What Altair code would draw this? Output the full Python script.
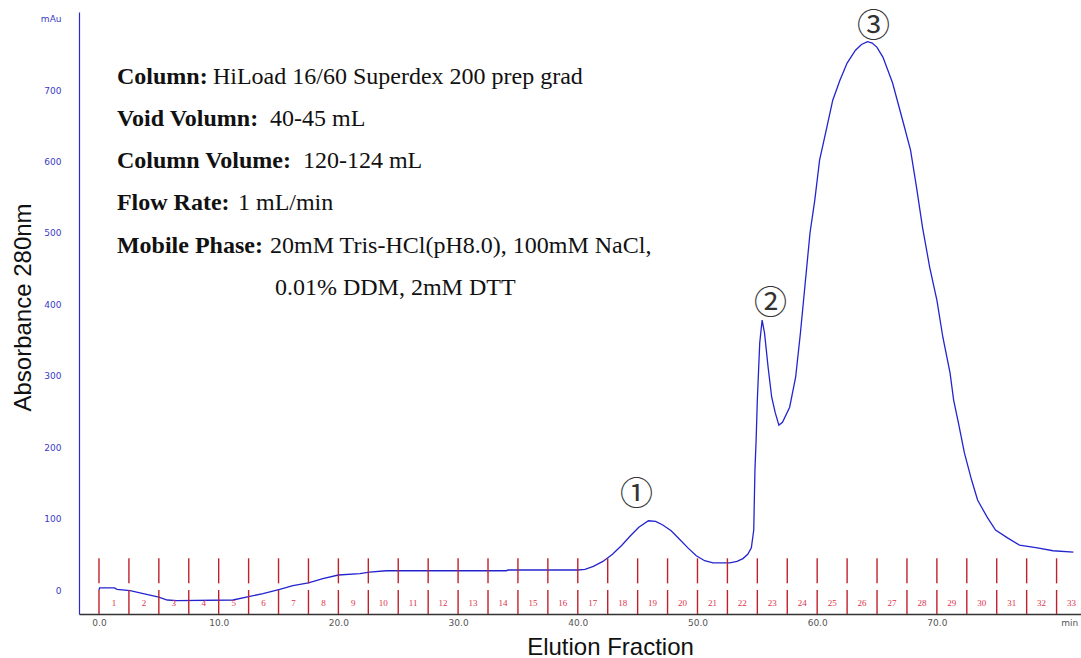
import altair as alt
import pandas as pd

# Chromatogram trace: elution (mL at 1 mL/min) vs. absorbance at 280 nm (mAu)
elution_ml = [
    0.0, 0.05, 1.3, 1.5, 2.6, 3.7, 5.0, 5.7, 6.5, 11.2, 12.6, 13.7, 15.1, 16.2,
    17.5, 18.7, 20.0, 21.8, 22.6, 24.0, 34.0, 34.2, 40.0, 40.6, 41.3, 42.1, 42.9,
    43.7, 44.4, 45.1, 45.9, 46.5, 47.1, 47.8, 48.5, 49.2, 49.9, 50.6, 51.3, 52.7,
    53.3, 53.8, 54.2, 54.5, 54.7, 54.8, 54.9, 55.0, 55.2, 55.4, 55.6, 55.9, 56.2,
    56.5, 56.8, 57.1, 57.7, 58.2, 58.6, 59.0, 59.4, 59.8, 60.2, 60.7, 61.3, 61.9,
    62.5, 63.2, 63.7, 64.2, 64.6, 65.0, 65.5, 66.3, 67.2, 67.8, 68.3, 68.8, 69.4,
    70.0, 70.5, 71.1, 71.4, 71.8, 72.3, 72.9, 73.4, 74.2, 74.9, 75.9, 76.9, 78.4,
    79.7, 81.4,
]
absorbance_mau = [
    0, 3, 3, 1, -1, -5, -10, -14, -15, -14, -9, -5, 1, 6,
    10, 16, 21, 23, 25, 27, 27, 28, 28, 29, 33, 40, 50,
    63, 76, 88, 97, 96, 91, 83, 71, 59, 48, 41, 38, 38,
    40, 44, 50, 59, 84, 168, 210, 266, 346, 378, 360, 312, 270,
    248, 231, 235, 256, 298, 360, 430, 500, 546, 602, 640, 686, 714,
    738, 756, 764, 768, 766, 760, 746, 710, 654, 616, 564, 508, 452,
    406, 354, 304, 266, 234, 192, 154, 126, 102, 84, 73, 63, 59,
    55, 53,
]

# Fraction collector: 33 fractions of 2.5 mL each
fraction_numbers = list(range(1, 34))
fraction_size_ml = 2.5

# Peak markers
peak_labels = ["①", "②", "③"]
peak_label_ml = [44.9, 56.1, 64.7]
peak_label_mau = [133, 400, 789]

# Run conditions
info_keys = ["Column:", "Void Volumn:", "Column Volume:", "Flow Rate:", "Mobile Phase:", ""]
info_values = [
    "HiLoad 16/60 Superdex 200 prep grad",
    "40-45 mL",
    "120-124 mL",
    "1 mL/min",
    "20mM Tris-HCl(pH8.0), 100mM NaCl,",
    "0.01% DDM, 2mM DTT",
]

# ---- layout of the annotation block (data coordinates) ----
info_key_ml = 1.5
info_value_ml = [9.52, 14.29, 17.04, 11.61, 14.29, 14.70]
info_row_mau = [708, 650, 591, 532, 472, 413]

trace_df = pd.DataFrame({"ml": elution_ml, "mau": absorbance_mau})

bounds = [i * fraction_size_ml for i in range(len(fraction_numbers))]
bounds_df = pd.DataFrame({"ml": bounds})
upper_df = bounds_df.assign(mau=9.3, hi=44.4)
lower_df = bounds_df.assign(mau=-33.6, hi=0.0)
frac_df = pd.DataFrame({
    "ml": [(n - 0.5) * fraction_size_ml for n in fraction_numbers],
    "mau": -18,
    "txt": [str(n) for n in fraction_numbers],
})
peak_df = pd.DataFrame({"ml": peak_label_ml, "mau": peak_label_mau, "txt": peak_labels})
key_df = pd.DataFrame({"ml": info_key_ml, "mau": info_row_mau, "txt": info_keys})
val_df = pd.DataFrame({"ml": info_value_ml, "mau": info_row_mau, "txt": info_values})
unit_df = pd.DataFrame({"ml": [81.1], "mau": [-46], "txt": ["min"]})

x_scale = alt.Scale(domain=[-1.67, 82.04], nice=False, zero=False)
y_scale = alt.Scale(domain=[-33.6, 809.5], nice=False, zero=False)

x_axis = alt.Axis(
    values=[0, 10, 20, 30, 40, 50, 60, 70],
    format=".1f",
    ticks=False,
    grid=False,
    labelColor="#555555",
    labelFont="DejaVu Sans",
    labelFontSize=9,
    labelPadding=4,
    domainColor="#333333",
    domainWidth=1.5,
    title="Elution Fraction",
    titleFont="Liberation Sans",
    titleFontSize=24,
    titleFontWeight="normal",
    titleColor="#111111",
    titleX=531,
    titleY=33,
    titleAlign="center",
    titleBaseline="middle",
)
y_axis = alt.Axis(
    values=[0, 100, 200, 300, 400, 500, 600, 700, 800],
    labelExpr="datum.value == 800 ? 'mAu' : datum.label",
    ticks=False,
    grid=False,
    labelColor="#3b3bc4",
    labelFont="DejaVu Sans",
    labelFontSize=9,
    labelPadding=18,
    domainColor="#2a2acc",
    domainWidth=1.2,
    title="Absorbance 280nm",
    titleFont="Liberation Sans",
    titleFontSize=24,
    titleFontWeight="normal",
    titleColor="#111111",
    titleAngle=270,
    titleX=-56,
    titleY=295,
    titleAlign="center",
    titleBaseline="middle",
)

X = alt.X("ml:Q", scale=x_scale, axis=x_axis)
Y = alt.Y("mau:Q", scale=y_scale, axis=y_axis)

trace = alt.Chart(trace_df).mark_line(color="#2424cf", strokeWidth=1.3).encode(x=X, y=Y)


def rules(df):
    return alt.Chart(df).mark_rule(color="#c0202c", strokeWidth=1.4).encode(
        x=X, y=Y, y2="hi:Q"
    )


def texts(df, **kw):
    return alt.Chart(df).mark_text(**kw).encode(x=X, y=Y, text="txt:N")


frac_text = texts(frac_df, font="Liberation Serif", fontSize=9, color="#e0304a",
                  align="center", baseline="middle")
peak_text = texts(peak_df, font="Noto Sans CJK SC", fontSize=33, color="#333333",
                  align="center", baseline="middle")
key_text = texts(key_df, font="Liberation Serif", fontSize=24, fontWeight="bold",
                 color="#111111", align="left", baseline="alphabetic")
val_text = texts(val_df, font="Liberation Serif", fontSize=24, color="#111111",
                 align="left", baseline="alphabetic")
unit_text = texts(unit_df, font="DejaVu Sans", fontSize=9, color="#555555",
                  align="center", baseline="middle")

chart = alt.layer(
    trace, rules(upper_df), rules(lower_df), frac_text,
    peak_text, key_text, val_text, unit_text,
).properties(
    width=1002,
    height=602,
    padding={"left": 79, "top": 12, "right": 0, "bottom": 44},
    autosize=alt.AutoSizeParams(type="none"),
    background="white",
).configure_view(stroke=None)

chart.save("out.html", embed_options={"renderer": "svg", "actions": False})
